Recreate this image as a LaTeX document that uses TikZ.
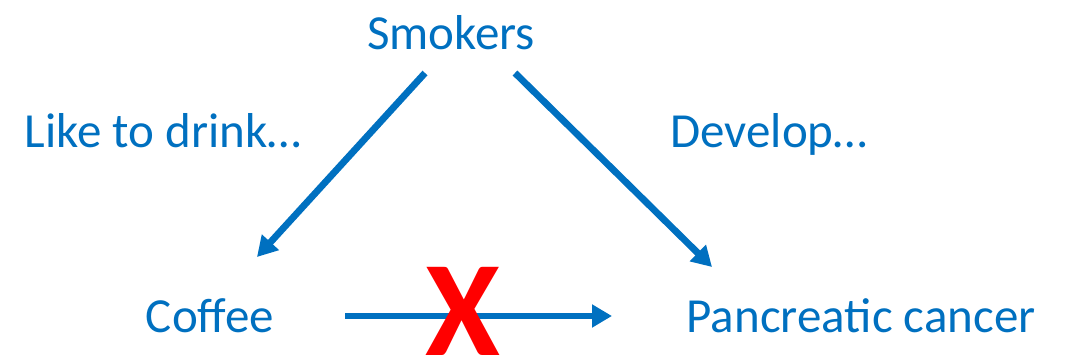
\documentclass[tikz,border=0pt]{standalone}
\usepackage{fontspec}
\setmainfont{Carlito}
\usepackage{xcolor}
\usetikzlibrary{arrows.meta, calc}
\definecolor{txtblue}{HTML}{0070C0}

\begin{document}
\begin{tikzpicture}[x=0.5pt,y=0.5pt,
  lbl/.style={text=txtblue,anchor=base,inner sep=0pt,
    font=\fontsize{24.5}{29}\selectfont},
  arr/.style={draw=txtblue,line width=3.4pt,
    -{Triangle[length=10pt,width=11pt]}}]
\useasboundingbox (0,0) rectangle (1066,358);
\clip (0,0) rectangle (1066,358);
% The three variables
\node[lbl] (smokers) at (451,308) {Smokers};
\node[lbl] (coffee) at (210,25) {Coffee};
\node[lbl] (cancer) at (861,25) {Pancreatic cancer};
% Edge labels
\node[lbl] (drink) at (163,210) {Like to drink…};
\node[lbl] (develop) at (769,210) {Develop…};
% Arrows from the confounder
\draw[arr] ($(smokers.base)+(-26,-23)$) -- ($(coffee.base)+(47,76)$);
\draw[arr] ($(smokers.base)+(64,-23)$) -- ($(cancer.base)+(-149,66)$);
% Direct link (crossed out)
\draw[arr] ($(coffee.base)+(135,17)$) -- ($(cancer.base)+(-249,17)$);
\node[text=red,anchor=base,inner sep=0pt,
  font=\fontsize{68}{80}\bfseries\selectfont] (nolink) at (463,2) {X};
\end{tikzpicture}
\end{document}
